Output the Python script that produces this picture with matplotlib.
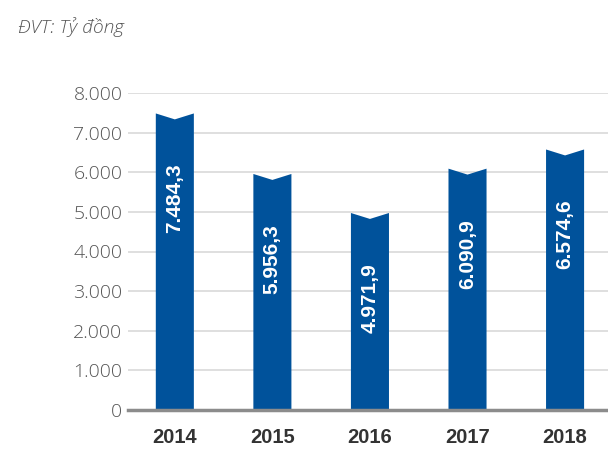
import matplotlib
matplotlib.use("Agg")
import matplotlib.pyplot as plt
from matplotlib.patches import Polygon
import numpy as np

years = ["2014", "2015", "2016", "2017", "2018"]
values = [7484.3, 5956.3, 4971.9, 6090.9, 6574.6]
value_labels = ["7.484,3", "5.956,3", "4.971,9", "6.090,9", "6.574,6"]
yticks = [0, 1000, 2000, 3000, 4000, 5000, 6000, 7000, 8000]
ytick_labels = ["0", "1.000", "2.000", "3.000", "4.000", "5.000", "6.000", "7.000", "8.000"]
unit_label = "ĐVT: Tỷ đồng"

W, H = 608, 451
fig = plt.figure(figsize=(W / 100, H / 100), dpi=100)
ax = fig.add_axes([128 / W, 1 - 410 / H, 1 - 128 / W, (410 - 93) / H])

bar_color = "#00529B"
width = 0.39
notch = 150
x = np.arange(len(years))
ax.set_xlim(-0.48, 4.44)
ax.set_ylim(0, 8000)

for xi, v, lab in zip(x, values, value_labels):
    l, r = xi - width / 2, xi + width / 2
    poly = Polygon([(l, 0), (r, 0), (r, v), (xi, v - notch), (l, v)],
                   closed=True, facecolor=bar_color, edgecolor="none", zorder=3)
    ax.add_patch(poly)
    ax.text(xi, v - 2150, lab, rotation=90, ha="center", va="center",
            color="white", fontsize=15, fontweight="bold",
            family=["Liberation Sans", "DejaVu Sans"], zorder=4)

ax.set_yticks(yticks)
ax.set_yticklabels(ytick_labels, fontsize=14, color="#555555", fontweight="light",
                   family=["Open Sans", "DejaVu Sans"])
ax.set_xticks(x)
ax.set_xticklabels(years, fontsize=14.5, fontweight="bold", color="#333333",
                   family=["Liberation Sans", "DejaVu Sans"])
ax.tick_params(axis="y", length=0, pad=4)
ax.tick_params(axis="x", length=0, pad=13)
ax.grid(axis="y", color="#d9d9d9", linewidth=1.2, zorder=0)
for s in ax.spines.values():
    s.set_visible(False)
ax.axhline(0, color="#8c8c8c", linewidth=2.5, zorder=5, clip_on=False)

fig.text(18 / W, 1 - 27 / H, unit_label, fontsize=13.8, style="italic", color="#555555",
         fontweight="light", va="center", ha="left", family=["Open Sans", "DejaVu Sans"])

fig.savefig("out.png", dpi=100)
